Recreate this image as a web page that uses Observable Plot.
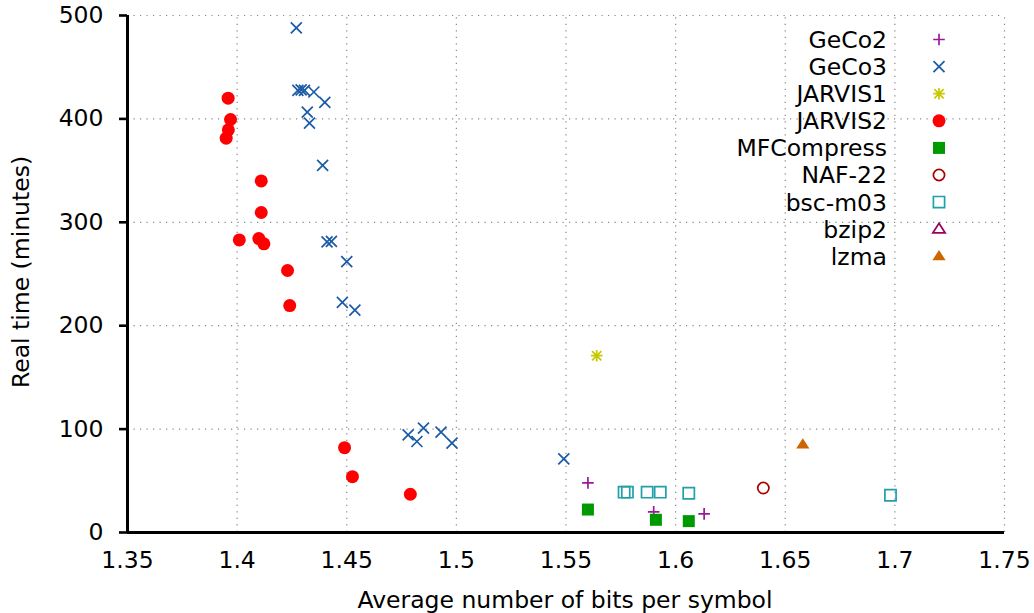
<!DOCTYPE html>
<html>
<head>
<meta charset="utf-8">
<script src="https://cdn.jsdelivr.net/npm/d3@7"></script>
<script src="https://cdn.jsdelivr.net/npm/@observablehq/plot@0.6"></script>
<style>
  html, body { margin: 0; padding: 0; background: #fff; }
  #chart { width: 1034px; height: 613px; }
</style>
</head>
<body>
<div id="chart"></div>
<script>
// ---------- data ----------
const seriesNames = ["GeCo2", "GeCo3", "JARVIS1", "JARVIS2", "MFCompress", "NAF-22", "bsc-m03", "bzip2", "lzma"];
const seriesColors = ["#9a1a9a", "#1a5aa6", "#c8c800", "#ff0000", "#009900", "#a80000", "#20a0a8", "#990060", "#cc6600"];

const GeCo2 = [[1.560, 48], [1.590, 20], [1.613, 18]];
const GeCo3 = [
  [1.427, 488], [1.4277, 427.5], [1.4292, 428], [1.4307, 427.5], [1.435, 426],
  [1.440, 416], [1.432, 406.5], [1.433, 396], [1.439, 355], [1.441, 281],
  [1.443, 281.5], [1.450, 262], [1.448, 222.5], [1.4537, 215],
  [1.478, 94.5], [1.482, 88], [1.485, 101], [1.493, 97], [1.498, 86.4], [1.549, 71.3]
];
const JARVIS1 = [[1.564, 171]];
const JARVIS2 = [
  [1.3959, 420], [1.397, 399.4], [1.396, 389.4], [1.395, 381.4], [1.411, 340],
  [1.411, 309.5], [1.401, 283], [1.4099, 284.3], [1.4122, 279.2], [1.423, 253.4],
  [1.424, 219.5], [1.449, 82], [1.4526, 54], [1.479, 37]
];
const MFCompress = [[1.560, 22.2], [1.591, 12.3], [1.606, 11]];
const NAF22 = [[1.640, 43]];
const bscM03 = [[1.5765, 39], [1.578, 39], [1.587, 39], [1.593, 39], [1.606, 38], [1.698, 36]];
const bzip2 = [];
const lzma = [[1.658, 85]];

const xTicks = [1.35, 1.4, 1.45, 1.5, 1.55, 1.6, 1.65, 1.7, 1.75];
const yTicks = [0, 100, 200, 300, 400, 500];

// ---------- gnuplot-like symbols (half-size = r) ----------
const H = s => Math.sqrt(s / Math.PI);
const gp = {
  plus: { draw(c, s) { const h = H(s); c.moveTo(-h, 0); c.lineTo(h, 0); c.moveTo(0, -h); c.lineTo(0, h); } },
  times: { draw(c, s) { const h = H(s); c.moveTo(-h, -h); c.lineTo(h, h); c.moveTo(-h, h); c.lineTo(h, -h); } },
  star: { draw(c, s) { const h = H(s); const d = h * 0.8;
    c.moveTo(-h, 0); c.lineTo(h, 0); c.moveTo(0, -h); c.lineTo(0, h);
    c.moveTo(-d, -d); c.lineTo(d, d); c.moveTo(-d, d); c.lineTo(d, -d); } },
  circle: { draw(c, s) { const h = H(s); c.moveTo(h, 0); c.arc(0, 0, h, 0, 2 * Math.PI); c.closePath(); } },
  square: { draw(c, s) { const h = H(s); c.rect(-h, -h, 2 * h, 2 * h); } },
  triangle: { draw(c, s) { const h = H(s); c.moveTo(0, -h * 0.95); c.lineTo(h, h * 0.6); c.lineTo(-h, h * 0.6); c.closePath(); } }
};

const styles = [
  { data: GeCo2,      symbol: gp.plus,     r: 5.8, filled: false },
  { data: GeCo3,      symbol: gp.times,    r: 5.5, filled: false },
  { data: JARVIS1,    symbol: gp.star,     r: 5.8, filled: false },
  { data: JARVIS2,    symbol: gp.circle,   r: 6.5, filled: true },
  { data: MFCompress, symbol: gp.square,   r: 6,   filled: true },
  { data: NAF22,      symbol: gp.circle,   r: 5.6, filled: false },
  { data: bscM03,     symbol: gp.square,   r: 5.6, filled: false },
  { data: bzip2,      symbol: gp.triangle, r: 6.2, filled: false },
  { data: lzma,       symbol: gp.triangle, r: 6.6, filled: true }
];

const seriesMarks = styles.map((s, i) => Plot.dot(s.data, {
  x: d => d[0], y: d => d[1],
  symbol: s.symbol, r: s.r,
  fill: s.filled ? seriesColors[i] : "none",
  stroke: s.filled ? "none" : seriesColors[i],
  strokeWidth: s.filled ? 0 : 1.7
}));

const font = "DejaVu Sans, sans-serif";
const FS = 23.5;
const chart = Plot.plot({
  width: 1034,
  height: 613,
  marginLeft: 127,
  marginRight: 30,
  marginTop: 15,
  marginBottom: 81,
  style: { fontFamily: font, fontSize: FS + "px", background: "#fff", color: "#000" },
  x: { domain: [1.35, 1.75], label: null },
  y: { domain: [0, 500], label: null },
  marks: [
    Plot.ruleX(xTicks.slice(1), { y1: 0, y2: 500, stroke: "#888", strokeDasharray: "1.2,5.3", strokeWidth: 1.2 }),
    Plot.ruleY(yTicks.slice(1), { x1: 1.35, x2: 1.75, stroke: "#888", strokeDasharray: "1.2,5.3", strokeWidth: 1.2 }),
    Plot.axisY({ ticks: yTicks, tickSize: 8, tickPadding: 16, strokeWidth: 2.6, fontSize: FS, label: null, tickFormat: d => String(d) }),
    Plot.axisX({ ticks: xTicks, tickSize: 0, tickPadding: 19, fontSize: FS, label: null, tickFormat: d => String(d) }),
    Plot.ruleX([1.35], { y1: 0, y2: 500, stroke: "#000", strokeWidth: 3 }),
    Plot.ruleY([0], { x1: 1.35, x2: 1.75, stroke: "#000", strokeWidth: 3 }),
    ...seriesMarks
  ]
});

document.getElementById("chart").appendChild(chart);

// ---------- axis titles and legend ----------
const svg = d3.select(chart);
svg.append("text")
  .attr("x", 565).attr("y", 608)
  .attr("text-anchor", "middle")
  .attr("font-family", font).attr("font-size", FS).attr("fill", "#000")
  .text("Average number of bits per symbol");
svg.append("text")
  .attr("transform", "translate(28.5,272) rotate(-90)")
  .attr("text-anchor", "middle")
  .attr("font-family", font).attr("font-size", FS).attr("fill", "#000")
  .text("Real time (minutes)");

const legend = svg.append("g").attr("transform", "translate(0,39.5)");
seriesNames.forEach((name, i) => {
  const s = styles[i];
  const row = legend.append("g").attr("transform", `translate(0,${i * 27.1})`);
  row.append("text")
    .attr("x", 887).attr("y", 0).attr("dy", "0.36em")
    .attr("text-anchor", "end")
    .attr("font-family", font).attr("font-size", FS).attr("fill", "#000")
    .text(name);
  row.append("path")
    .attr("transform", "translate(939,0)")
    .attr("d", d3.symbol(s.symbol, s.r * s.r * Math.PI)())
    .attr("fill", s.filled ? seriesColors[i] : "none")
    .attr("stroke", s.filled ? "none" : seriesColors[i])
    .attr("stroke-width", 1.7);
});
</script>
</body>
</html>
